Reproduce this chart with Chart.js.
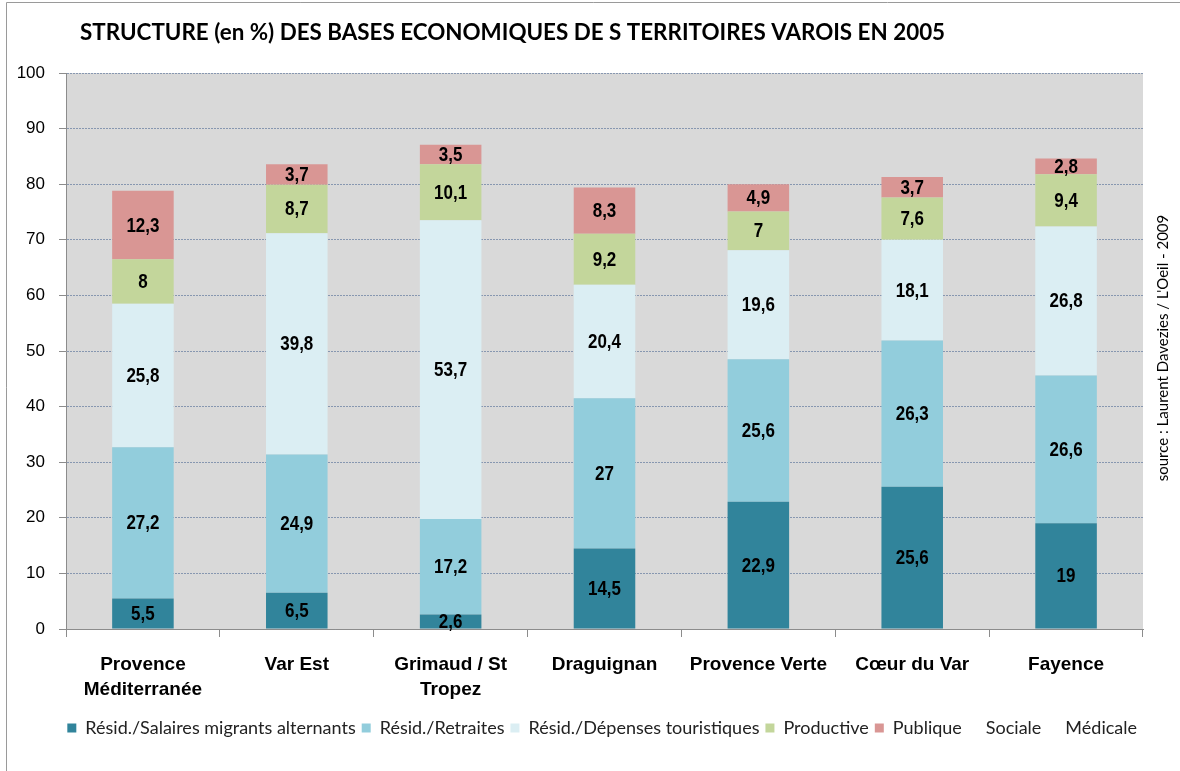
<!DOCTYPE html>
<html>
<head>
<meta charset="utf-8">
<script src="https://cdn.jsdelivr.net/npm/chart.js@4/dist/chart.umd.min.js"></script>
<style>
  html, body { margin: 0; padding: 0; background: #fff; }
  #wrap { width: 1180px; height: 771px; position: relative; }
</style>
</head>
<body>
<div id="wrap"><canvas id="chart"></canvas></div>
<script>
const territoires = [["Provence", "Méditerranée"], "Var Est", ["Grimaud / St", "Tropez"], "Draguignan", "Provence Verte", "Cœur du Var", "Fayence"];
const salaires = [5.5, 6.5, 2.6, 14.5, 22.9, 25.6, 19];
const retraites = [27.2, 24.9, 17.2, 27, 25.6, 26.3, 26.6];
const touristiques = [25.8, 39.8, 53.7, 20.4, 19.6, 18.1, 26.8];
const productive = [8, 8.7, 10.1, 9.2, 7, 7.6, 9.4];
const publique = [12.3, 3.7, 3.5, 8.3, 4.9, 3.7, 2.8];
const sociale = [];
const medicale = [];
const yTicks = [0, 10, 20, 30, 40, 50, 60, 70, 80, 90, 100];

const title = "STRUCTURE (en %) DES BASES ECONOMIQUES DE S TERRITOIRES VAROIS EN 2005";
const source = "source : Laurent Davezies / L'Oeil - 2009";

const sans = "'Liberation Sans', Arial, sans-serif";

// gray plot background, frame, title, source
const decor = {
  id: "decor",
  beforeDraw(chart) {
    const { ctx, chartArea: a } = chart;
    ctx.save();
    ctx.fillStyle = "#d9d9d9";
    ctx.fillRect(a.left, a.top, a.right - a.left, a.bottom - a.top);
    ctx.strokeStyle = "#9a9a9a";
    ctx.lineWidth = 1;
    ctx.beginPath();
    ctx.moveTo(6.5, 800);
    ctx.lineTo(6.5, 2.5);
    ctx.lineTo(1200, 2.5);
    ctx.stroke();
    ctx.fillStyle = "#000";
    ctx.font = "bold 22.4px Lato, sans-serif";
    ctx.textBaseline = "middle";
    ctx.fillText(title, 80, 33);
    ctx.translate(1163, 348);
    ctx.rotate(-Math.PI / 2);
    ctx.font = "15px Lato, sans-serif";
    ctx.textAlign = "center";
    ctx.fillText(source, 0, 0);
    ctx.restore();
  },
};

// values in the middle of each segment, condensed like the original
const valueLabels = {
  id: "valueLabels",
  afterDatasetsDraw(chart) {
    const { ctx } = chart;
    chart.data.datasets.forEach((ds, i) => {
      const meta = chart.getDatasetMeta(i);
      meta.data.forEach((bar, j) => {
        const v = ds.data[j];
        if (v == null) return;
        ctx.save();
        ctx.translate(bar.x, (bar.y + bar.base) / 2 + 1);
        ctx.scale(0.85, 1);
        ctx.font = "bold 20px " + sans;
        ctx.fillStyle = "#000";
        ctx.textAlign = "center";
        ctx.textBaseline = "middle";
        ctx.fillText(String(v).replace(".", ","), 0, 0);
        ctx.restore();
      });
    });
  },
};

const mk = (label, data, color) => ({
  label, data, backgroundColor: color, borderWidth: 0,
  barPercentage: 0.4, categoryPercentage: 1,
});

new Chart(document.getElementById("chart"), {
  type: "bar",
  data: {
    labels: territoires,
    datasets: [
      mk("Résid./Salaires migrants alternants", salaires, "#31849b"),
      mk("Résid./Retraites", retraites, "#92cddc"),
      mk("Résid./Dépenses touristiques", touristiques, "#dbeef3"),
      mk("Productive", productive, "#c3d69b"),
      mk("Publique", publique, "#d99694"),
      mk("Sociale", sociale, "rgba(0,0,0,0)"),
      mk("Médicale", medicale, "rgba(0,0,0,0)"),
    ],
  },
  options: {
    responsive: true,
    maintainAspectRatio: false,
    animation: false,
    layout: { padding: { top: 73, right: 37, bottom: 24, left: 0 } },
    plugins: {
      title: { display: false },
      tooltip: { enabled: false },
      legend: {
        position: "bottom",
        align: "end",
        labels: {
          boxWidth: 9, boxHeight: 9, padding: 6,
          color: "#222",
          font: { family: "Lato, sans-serif", size: 18 },
        },
      },
    },
    scales: {
      x: {
        stacked: true,
        afterFit: (s) => { s.height = 84; },
        grid: { offset: true, drawOnChartArea: false, color: "#8c8c8c", tickLength: 8 },
        border: { color: "#8c8c8c" },
        ticks: {
          color: "#000", padding: 15, maxRotation: 0, autoSkip: false,
          font: { family: sans, size: 19, weight: "bold", lineHeight: 1.316 },
        },
      },
      y: {
        stacked: true,
        min: 0, max: 100,
        afterFit: (s) => { s.width = 66; },
        afterBuildTicks: (s) => { s.ticks = yTicks.map((v) => ({ value: v })); },
        grid: { color: "#8797b0", tickColor: "#8c8c8c", tickLength: 7, tickBorderDash: [] },
        border: { color: "#8c8c8c", dash: [2, 1] },
        ticks: { color: "#000", padding: 14, font: { family: sans, size: 17 } },
      },
    },
  },
  plugins: [decor, valueLabels],
});
</script>
</body>
</html>
